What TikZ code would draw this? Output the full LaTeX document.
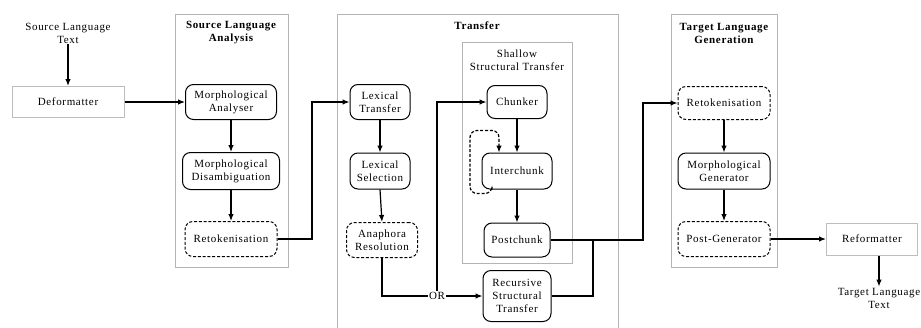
\documentclass[tikz,border=0pt]{standalone}
\usepackage{fontspec}
\setmainfont{Liberation Serif}[LetterSpace=6]
\usetikzlibrary{arrows.meta,calc}
\definecolor{groupgray}{HTML}{B4B4B4}
\definecolor{ioGray}{HTML}{BDBDBD}
\begin{document}
\begin{tikzpicture}[x=1pt,y=-1pt,
  every node/.style={font=\fontsize{11}{13}\selectfont, align=center, inner sep=1pt},
  module/.style={draw, rounded corners=8pt, line width=1pt, fill=white},
  optmodule/.style={module, dashed, dash pattern=on 3pt off 1.8pt},
  iobox/.style={draw=ioGray, line width=1pt, fill=white},
  group/.style={draw=groupgray, line width=1pt},
  grouptitle/.style={font=\fontsize{11}{13}\selectfont\bfseries},
  flow/.style={line width=1.2pt, -{Latex[length=7pt,width=5.5pt]}},
  link/.style={line width=1.2pt}
]
\useasboundingbox (0,0) rectangle (921,327);

% processing groups
\begin{scope}
\clip (0,0) rectangle (921,327);
\draw[group] (175,14) rectangle (288,267);
\draw[group] (337,14) rectangle (618,340);
\draw[group] (462,42) rectangle (572,263);
\draw[group] (671,14) rectangle (777,267);
\end{scope}
\node[grouptitle] (slaT) at (231,33) {Source Language\\Analysis};
\node[grouptitle] (trT) at (477,26) {Transfer};
\node (shT) at (517,60) {Shallow\\Structural Transfer};
\node[grouptitle] (tlgT) at (724,33) {Target Language\\Generation};

% input / output
\node (src) at (68,33) {Source Language\\Text};
\node[iobox, minimum width=112pt, minimum height=31pt] (deform) at (68,102) {Deformatter};
\node[iobox, minimum width=91pt, minimum height=32pt] (reform) at (872,239) {Reformatter};
\node (tgt) at (879,298) {Target Language\\Text};

% source language analysis
\node[module, minimum width=91pt, minimum height=35pt] (ma) at (231,102) {Morphological\\Analyser};
\node[module, minimum width=97pt, minimum height=37pt] (md) at (231,171) {Morphological\\Disambiguation};
\node[optmodule, minimum width=92pt, minimum height=35pt] (rt1) at (231,239) {Retokenisation};

% transfer
\node[module, minimum width=60pt, minimum height=35pt] (lt) at (380,102) {Lexical\\Transfer};
\node[module, minimum width=60pt, minimum height=36pt] (ls) at (380,171) {Lexical\\Selection};
\node[optmodule, minimum width=71pt, minimum height=35pt] (ar) at (382,240) {Anaphora\\Resolution};
\node (or) at (437,296) {OR};
\node[module, minimum width=60pt, minimum height=33pt] (ch) at (517,102) {Chunker};
\node[module, minimum width=70pt, minimum height=36pt] (ic) at (517,171) {Interchunk};
\node[module, minimum width=66pt, minimum height=34pt] (pc) at (517,240) {Postchunk};
\node[module, minimum width=68pt, minimum height=51pt] (rst) at (517,296) {Recursive\\Structural\\Transfer};

% target language generation
\node[optmodule, minimum width=92pt, minimum height=33pt] (rt2) at (724,103) {Retokenisation};
\node[module, minimum width=92pt, minimum height=36pt] (mg) at (724,171) {Morphological\\Generator};
\node[optmodule, minimum width=92pt, minimum height=35pt] (pg) at (724,239) {Post-Generator};

% routing columns
\coordinate (j1) at (312,0);
\coordinate (j2) at (643,0);
\coordinate (j3) at (593,0);

% connectors
\draw[flow] (src.south) -- (deform.north);
\draw[flow] (deform.east) -- (ma.west);
\draw[flow] (ma.south) -- (md.north);
\draw[flow] (md.south) -- (rt1.north);
\draw[flow] (rt1.east) -- (rt1.east -| j1) |- (lt.west);
\draw[flow] (lt.south) -- (ls.north);
\draw[flow] (ls.south) -- (ar.north);
\draw[link] (ar.south) |- (or.west);
\draw[flow] (or.east) -- (rst.west);
\draw[flow] (or.north) |- (ch.west);
\draw[flow] (ch.south) -- (ic.north);
\draw[flow] (ic.south) -- (pc.north);
\draw[flow, dashed, dash pattern=on 3pt off 1.8pt, rounded corners=7pt]
  ($(ic.south)+(-25,0)$) -- ++(0,4) -- ($(ic.south)+(-47,4)$)
  -- ($(ic.north)+(-47,-22)$) -- ($(ic.north)+(-18,-22)$) -- ($(ic.north)+(-18,0)$);
\draw[flow] (pc.east) -- (pc.east -| j2) |- (rt2.west);
\draw[link] (rst.east) -| (j3 |- pc.east);
\draw[flow] (rt2.south) -- (mg.north);
\draw[flow] (mg.south) -- (pg.north);
\draw[flow] (pg.east) -- (reform.west);
\draw[flow] (reform.south -| tgt) -- (tgt.north);
\end{tikzpicture}
\end{document}
